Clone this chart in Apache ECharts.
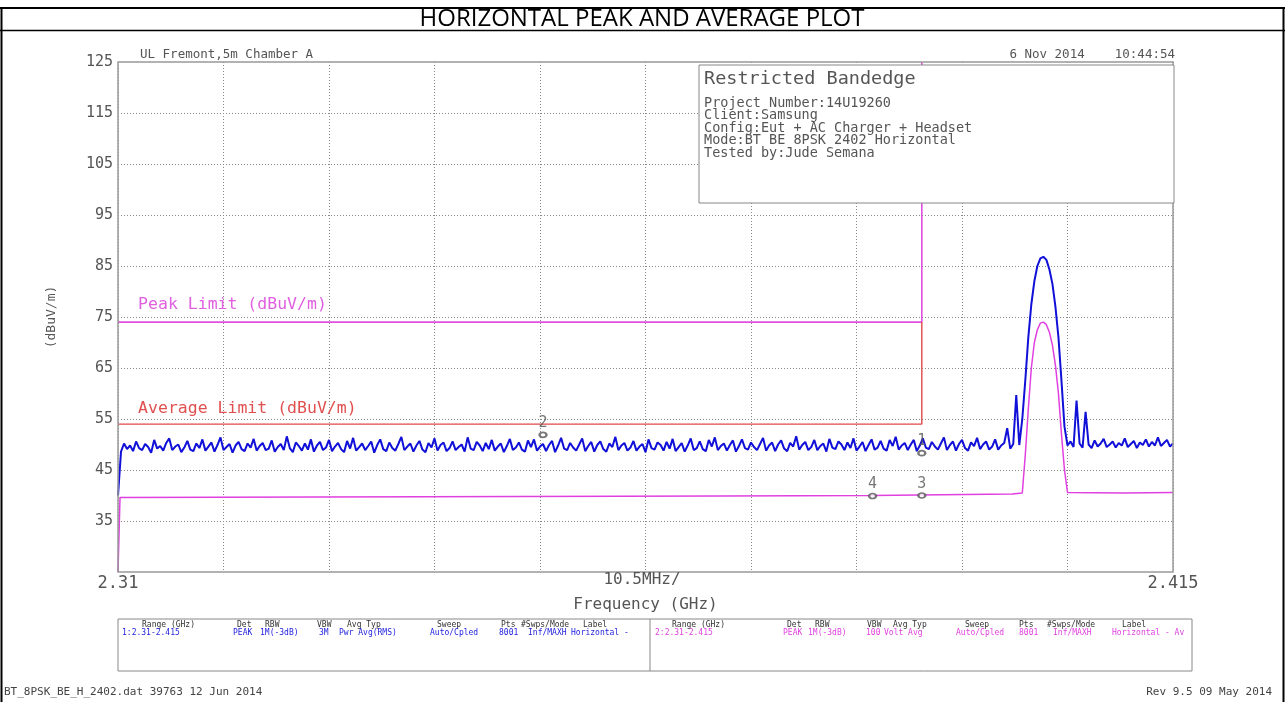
<!DOCTYPE html>
<html><head><meta charset="utf-8">
<script src="https://cdn.jsdelivr.net/npm/echarts@6/dist/echarts.min.js"></script>
<style>html,body{margin:0;padding:0;background:#fff}#c{width:1285px;height:702px}</style>
</head><body><div id="c"></div>
<script>
// ---------- data ----------
const freqMin = 2.31, freqMax = 2.415, freqDiv = 0.0105;
const yMin = 25, yMax = 125;
const yTickLabels = [35, 45, 55, 65, 75, 85, 95, 105, 115, 125];
const yGridValues = [35, 45, 55, 65, 75, 85, 95, 105, 115];
// Trace 1 (blue, peak) sampled every 0.3 MHz from 2.31 GHz
const blueStart = 2.31, blueStep = 0.0003;
const blueTrace = [
40.0,48.6,50.2,49.1,49.8,48.7,50.6,49.3,48.9,50.1,
49.5,48.4,50.9,49.2,49.7,48.8,50.3,51.2,48.9,49.6,
50.0,48.5,49.4,50.7,49.0,48.7,50.2,49.3,51.0,48.8,
49.6,50.4,48.6,49.9,51.4,48.9,49.5,50.1,48.4,49.8,
50.5,49.1,48.7,50.2,49.4,51.1,48.8,49.7,50.3,48.9,
49.2,50.8,48.6,49.5,50.1,48.9,51.6,49.3,48.5,50.4,
49.7,48.8,50.2,49.0,51.0,48.6,49.8,50.5,48.9,49.4,
50.9,48.7,49.6,50.3,49.1,48.5,50.7,49.2,51.3,48.8,
49.5,50.2,48.9,49.7,50.6,48.4,49.9,51.0,49.1,48.7,
50.4,49.3,48.8,50.1,51.5,48.9,49.6,50.2,48.6,49.8,
50.7,49.0,48.5,50.3,49.4,51.2,48.8,49.9,50.4,48.7,
49.3,50.6,48.9,49.5,50.0,48.6,51.4,49.2,48.9,50.5,
49.8,48.7,50.3,49.1,50.9,48.8,49.6,50.2,48.5,49.7,
51.1,48.9,49.4,50.4,49.0,48.6,50.8,49.5,51.0,48.8,
49.6,50.1,48.7,49.9,50.7,48.5,49.8,51.3,49.2,48.9,
50.3,49.4,48.8,50.0,51.2,48.7,49.7,50.5,48.6,49.9,
50.6,49.1,48.6,50.2,49.5,51.5,48.9,49.8,50.3,48.8,
49.4,50.7,48.8,49.6,50.1,48.5,51.0,49.3,49.0,50.4,
49.9,48.8,50.5,49.2,51.1,48.7,49.5,50.3,48.6,49.8,
51.2,48.9,49.3,50.6,49.1,48.7,50.9,49.6,51.4,48.9,
49.7,50.2,48.8,49.9,50.8,48.6,49.7,51.0,49.3,49.0,
50.4,49.5,48.9,50.1,51.3,48.8,49.8,50.4,48.7,50.0,
50.8,49.2,48.7,50.3,49.6,51.6,49.0,49.9,50.5,48.9,
49.5,50.9,48.9,49.7,50.2,48.6,51.1,49.4,49.1,50.6,
50.0,48.9,50.4,49.3,51.2,48.8,49.6,50.5,48.7,49.9,
51.0,49.0,49.4,50.7,49.2,48.8,50.9,49.7,51.5,49.0,
49.8,50.3,48.9,50.0,50.9,48.7,49.8,51.2,49.4,49.1,
50.5,49.6,49.0,50.2,51.4,48.9,49.9,50.6,48.8,50.1,
50.9,49.3,48.8,50.4,49.7,51.3,49.1,50.0,50.6,49.0,
49.6,51.0,49.0,49.8,50.3,53.2,49.2,50.1,59.7,49.9,
55.0,62.6,71.0,77.5,82.0,85.0,86.5,86.8,86.2,84.3,
81.5,77.0,71.0,62.5,53.5,49.8,50.6,49.5,58.6,50.2,
49.4,56.4,50.0,49.3,50.8,49.6,50.2,51.1,49.5,50.0,
50.6,49.4,50.3,49.8,51.2,49.5,50.1,50.7,49.3,50.4,
49.9,51.0,49.6,50.5,49.8,51.4,49.7,50.3,50.9,49.6,
50.2
];
// Trace 2 (magenta, average) [GHz, dBuV/m]
const magentaTrace = [
[2.3100,25.0],[2.3102,39.6],[2.3300,39.7],[2.3500,39.8],[2.3700,39.9],[2.3850,40.0],
[2.3990,40.3],[2.4000,40.5],[2.4003,48.0],[2.4006,57.0],[2.4009,65.0],[2.4012,70.0],
[2.4015,72.5],[2.4018,73.8],[2.4021,74.0],[2.4024,73.5],[2.4027,72.0],[2.4030,69.5],
[2.4033,65.5],[2.4036,60.0],[2.4039,52.0],[2.4042,45.0],[2.4045,40.6],[2.4100,40.5],
[2.4150,40.6]
];
const bandEdge = 2.39;
const peakLimit = 74, avgLimit = 54;
const markerNames = ['2', '1', '3', '4'];
const markerPoints = [[2.3523, 51.9], [2.39, 48.3], [2.39, 40.0], [2.3851, 39.9]];
const infoLines = ['Project Number:14U19260', 'Client:Samsung', 'Config:Eut + AC Charger + Headset',
  'Mode:BT BE 8PSK 2402 Horizontal', 'Tested by:Jude Semana'];
const tableHeaders = ['Range (GHz)', 'Det', 'RBW', 'VBW', 'Avg Typ', 'Sweep', 'Pts', '#Swps/Mode', 'Label'];
const trace1Row = ['1:2.31-2.415', 'PEAK', '1M(-3dB)', '3M', 'Pwr Avg(RMS)', 'Auto/Cpled', '8001', 'Inf/MAXH', 'Horizontal -'];
const trace2Row = ['2:2.31-2.415', 'PEAK', '1M(-3dB)', '100', 'Volt Avg', 'Auto/Cpled', '8001', 'Inf/MAXH', 'Horizontal - Av'];

// ---------- layout ----------
const G = {left: 118, top: 62, right: 1173, bottom: 572};
const MONO = '"DejaVu Sans Mono", monospace';
const t1HeadX = [142, 237, 265, 317, 347, 437, 501, 521, 583];
const t1ValX  = [122, 233, 260, 319, 339, 430, 499, 528, 571];
const t2HeadX = [672, 787, 815, 867, 893, 965, 1019, 1047, 1122];
const t2ValX  = [655, 783, 808, 866, 884, 956, 1019, 1053, 1112];

const blueData = blueTrace.map((v, i) => [+(blueStart + i * blueStep).toFixed(4), v]);

const chart = echarts.init(document.getElementById('c'), null, {renderer: 'canvas'});

function txt(x, y, s, o) {
  return Object.assign({type: 'text', x: x, y: y, z: 100, style: Object.assign({text: s, font: '12px ' + MONO, fill: '#444', textVerticalAlign: 'middle'}, o || {})});
}

const graphics = [];
// outer frame
graphics.push({type: 'line', z: 100, shape: {x1: 0, y1: 8, x2: 1285, y2: 8}, style: {stroke: '#000', lineWidth: 2}});
graphics.push({type: 'line', z: 100, shape: {x1: 0, y1: 30.5, x2: 1285, y2: 30.5}, style: {stroke: '#000', lineWidth: 1.5}});
graphics.push({type: 'line', z: 100, shape: {x1: 1.5, y1: 8, x2: 1.5, y2: 702}, style: {stroke: '#000', lineWidth: 2}});
graphics.push({type: 'line', z: 100, shape: {x1: 1283.5, y1: 8, x2: 1283.5, y2: 702}, style: {stroke: '#000', lineWidth: 2}});
graphics.push({type: 'text', x: 642, y: 19, z: 100, style: {text: 'HORIZONTAL PEAK AND AVERAGE PLOT', font: '24px "Open Sans", sans-serif', fill: '#000', textAlign: 'center', textVerticalAlign: 'middle'}});
// plot frame
graphics.push({type: 'rect', z: 50, shape: {x: G.left, y: G.top, width: G.right - G.left, height: G.bottom - G.top}, style: {fill: null, stroke: '#999', lineWidth: 1.5}});
// header texts
graphics.push(txt(140, 55, 'UL Fremont,5m Chamber A', {font: '12.5px ' + MONO, fill: '#555'}));
graphics.push(txt(1175, 55, '6 Nov 2014    10:44:54', {font: '12.5px ' + MONO, fill: '#555', textAlign: 'right'}));
// info box
graphics.push({type: 'rect', z: 90, shape: {x: 699, y: 65, width: 1174 - 699, height: 203 - 65}, style: {fill: '#fff', stroke: '#888', lineWidth: 1}});
graphics.push(txt(704, 79, 'Restricted Bandedge', {font: '18.5px ' + MONO, fill: '#555'}));
infoLines.forEach((s, i) => graphics.push(txt(704, 103 + i * 12.5, s, {font: '13.5px ' + MONO, fill: '#555'})));
// x axis center label
graphics.push(txt(642, 580, '10.5MHz/', {font: '16px ' + MONO, fill: '#555', textAlign: 'center'}));
// bottom table
graphics.push({type: 'rect', z: 90, shape: {x: 118, y: 619, width: 1192 - 118, height: 671 - 619}, style: {fill: '#fff', stroke: '#888', lineWidth: 1}});
graphics.push({type: 'line', z: 91, shape: {x1: 650, y1: 619, x2: 650, y2: 671}, style: {stroke: '#888', lineWidth: 1}});
tableHeaders.forEach((s, i) => {
  graphics.push(txt(t1HeadX[i], 625, s, {font: '8px ' + MONO, fill: '#333'}));
  graphics.push(txt(t2HeadX[i], 625, s, {font: '8px ' + MONO, fill: '#333'}));
});
trace1Row.forEach((s, i) => graphics.push(txt(t1ValX[i], 633, s, {font: '8px ' + MONO, fill: '#2222dd'})));
trace2Row.forEach((s, i) => graphics.push(txt(t2ValX[i], 633, s, {font: '8px ' + MONO, fill: '#e040e0'})));
// footer
graphics.push(txt(4, 692, 'BT_8PSK_BE_H_2402.dat 39763 12 Jun 2014', {font: '11px ' + MONO, fill: '#444'}));
graphics.push(txt(1272, 692, 'Rev 9.5 09 May 2014', {font: '11px ' + MONO, fill: '#444', textAlign: 'right'}));

const near = (a, b) => Math.abs(a - b) < 1e-6;

chart.setOption({
  animation: false,
  backgroundColor: '#fff',
  grid: {left: G.left, top: G.top, width: G.right - G.left, height: G.bottom - G.top, containLabel: false},
  xAxis: {
    type: 'value', min: freqMin, max: freqMax, interval: freqDiv,
    name: 'Frequency (GHz)', nameLocation: 'middle', nameGap: 24,
    nameTextStyle: {fontFamily: MONO, fontSize: 16, color: '#555'},
    axisLine: {show: false}, axisTick: {show: false},
    axisLabel: {margin: 3, fontFamily: MONO, fontSize: 17, color: '#555', showMinLabel: true, showMaxLabel: true,
      formatter: v => near(v, freqMin) ? '2.31' : (near(v, freqMax) ? '2.415' : '')},
    splitLine: {show: true, lineStyle: {color: '#888', width: 1, type: [1, 2]}}
  },
  yAxis: {
    type: 'value', min: yMin, max: yMax, interval: 5,
    name: '(dBuV/m)', nameLocation: 'middle', nameRotate: 90, nameGap: 60,
    nameTextStyle: {fontFamily: MONO, fontSize: 13, color: '#555'},
    axisLine: {show: false}, axisTick: {show: false},
    axisLabel: {margin: 5, fontFamily: MONO, fontSize: 15, color: '#555',
      formatter: v => yTickLabels.indexOf(Math.round(v)) >= 0 ? String(Math.round(v)) : ''},
    splitLine: {show: false}
  },
  series: [
    {type: 'line', name: 'grid', data: [], silent: true,
      markLine: {silent: true, symbol: 'none', label: {show: false},
        lineStyle: {color: '#888', width: 1, type: [1, 2]},
        data: yGridValues.map(v => ({yAxis: v}))}},
    {type: 'line', name: 'Peak Limit', data: [[freqMin, peakLimit], [bandEdge, peakLimit], [bandEdge, yMax]],
      symbol: 'none', lineStyle: {color: '#e050e0', width: 1.6}, z: 3},
    {type: 'line', name: 'Average Limit', data: [[freqMin, avgLimit], [bandEdge, avgLimit], [bandEdge, peakLimit]],
      symbol: 'none', lineStyle: {color: '#e04848', width: 1.4}, z: 3},
    {type: 'line', name: 'Trace 2', data: magentaTrace, symbol: 'none',
      lineStyle: {color: '#e040e0', width: 1.5}, z: 4},
    {type: 'line', name: 'Trace 1', data: blueData, symbol: 'none',
      lineStyle: {color: '#1010d8', width: 2}, z: 5},
    {type: 'scatter', name: 'Markers', z: 6,
      data: markerPoints.map((p, i) => ({name: markerNames[i], value: p})),
      symbol: 'emptyCircle', symbolSize: [7, 5], itemStyle: {color: '#555', borderColor: '#555', borderWidth: 1},
      label: {show: true, position: 'top', distance: 1, formatter: p => p.name,
        fontFamily: MONO, fontSize: 15, color: '#555'}}
  ],
  graphic: graphics
});

// limit labels anchored to data coordinates
const pk = chart.convertToPixel({gridIndex: 0}, [2.312, peakLimit]);
const av = chart.convertToPixel({gridIndex: 0}, [2.312, avgLimit]);
graphics.push(txt(pk[0], pk[1] - 17, 'Peak Limit (dBuV/m)', {font: '16.5px ' + MONO, fill: '#e060e0'}));
graphics.push(txt(av[0], av[1] - 15, 'Average Limit (dBuV/m)', {font: '16.5px ' + MONO, fill: '#e05050'}));
chart.setOption({graphic: graphics});
</script></body></html>
